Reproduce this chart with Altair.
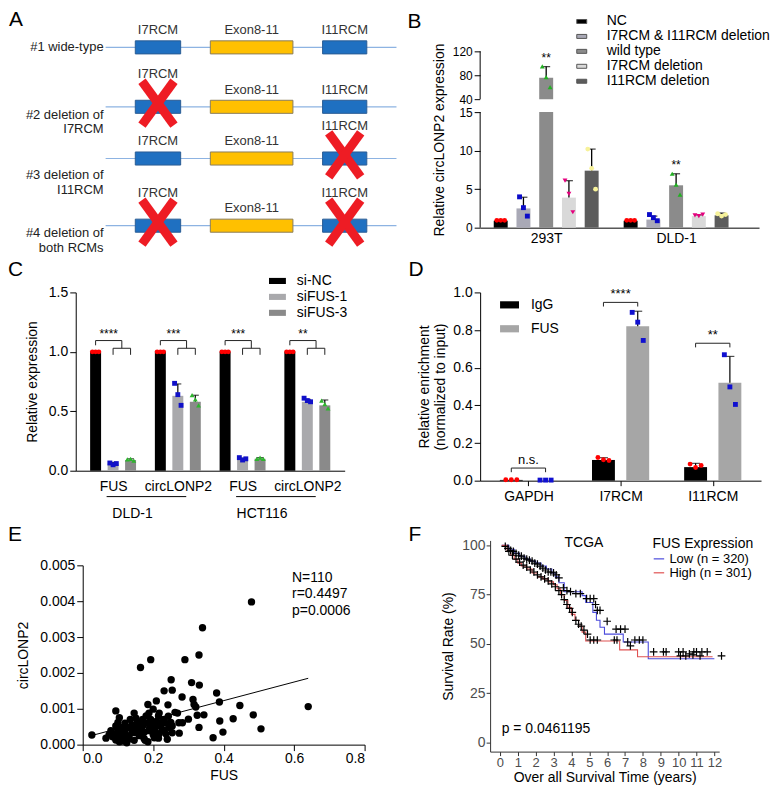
import altair as alt
import pandas as pd

FONT = "Liberation Sans"

# ---------------- Panel A : constructs ----------------
A_ROWS = ["#1 wide-type", "#2 deletion of\nI7RCM", "#3 deletion of\nI11RCM", "#4 deletion of\nboth RCMs"]
A_BLOCKS = ["I7RCM", "Exon8-11", "I11RCM"]
A_BLOCK_START = [10.2, 36.0, 74.6]
A_BLOCK_END = [25.8, 64.4, 89.8]
A_DELETED = [[], ["I7RCM"], ["I11RCM"], ["I7RCM", "I11RCM"]]

# ---------------- Panel B ----------------
B_CELLS = ["293T", "DLD-1"]
B_GROUPS = ["NC", "I7RCM & I11RCM deletion", "wild type", "I7RCM deletion", "I11RCM deletion"]
B_MEAN_293T = [0.9, 2.5, 76.0, 3.9, 7.4]
B_SD_293T = [0.05, 1.45, 18.5, 2.2, 2.8]
B_REPS_293T = [[0.95, 0.95, 0.95], [4.0, 2.6, 1.5], [95.0, 77.0, 60.0], [6.1, 4.4, 2.0], [10.2, 7.7, 5.0]]
B_SIG_293T = ["", "", "**", "", ""]
B_MEAN_DLD1 = [0.9, 1.05, 5.5, 1.5, 1.6]
B_SD_DLD1 = [0.05, 0.45, 1.5, 0.15, 0.3]
B_REPS_DLD1 = [[0.95, 0.95, 0.95], [1.7, 1.3, 0.9], [7.0, 5.6, 4.3], [1.6, 1.5, 1.7], [1.8, 1.5, 1.7]]
B_SIG_DLD1 = ["", "", "**", "", ""]

# ---------------- Panel C ----------------
C_TARGETS = ["FUS", "circLONP2", "FUS", "circLONP2"]
C_CELLS = ["DLD-1", "DLD-1", "HCT116", "HCT116"]
C_GROUPS = ["si-NC", "siFUS-1", "siFUS-3"]
C_MEAN = [[1.0, 0.06, 0.09], [1.0, 0.63, 0.58], [1.0, 0.09, 0.10], [1.0, 0.58, 0.55]]
C_SD = [[0.0, 0.01, 0.01], [0.0, 0.10, 0.055], [0.0, 0.015, 0.01], [0.0, 0.02, 0.045]]
C_REPS = [
    [[1.0, 1.0, 1.0], [0.065, 0.05, 0.06], [0.095, 0.10, 0.085]],
    [[1.0, 1.0, 1.0], [0.735, 0.64, 0.55], [0.635, 0.60, 0.55]],
    [[1.0, 1.0, 1.0], [0.11, 0.09, 0.10], [0.10, 0.11, 0.10]],
    [[1.0, 1.0, 1.0], [0.61, 0.59, 0.58], [0.59, 0.56, 0.525]],
]
C_SIG = ["****", "***", "***", "**"]

# ---------------- Panel D ----------------
D_TARGETS = ["GAPDH", "I7RCM", "I11RCM"]
D_GROUPS = ["IgG", "FUS"]
D_MEAN = [[0.004, 0.003], [0.11, 0.82], [0.072, 0.52]]
D_SD = [[0.0, 0.0], [0.012, 0.08], [0.02, 0.14]]
D_REPS = [
    [[0.005, 0.005, 0.005], [0.003, 0.003, 0.003]],
    [[0.123, 0.111, 0.107], [0.894, 0.842, 0.745]],
    [[0.088, 0.070, 0.081], [0.669, 0.498, 0.405]],
]
D_SIG = ["n.s.", "****", "**"]
D_BRACKET = [0.067, 0.947, 0.73]

# ---------------- Panel E ----------------
E_FUS = [0.479, 0.340, 0.330, 0.290, 0.193, 0.164, 0.251, 0.309, 0.331, 0.231, 0.254, 0.380, 0.282, 0.313,
         0.209, 0.242, 0.185, 0.388, 0.446, 0.640, 0.316, 0.321, 0.094, 0.104, 0.146, 0.269, 0.344, 0.325,
         0.484, 0.427, 0.300, 0.389, 0.330, 0.506, 0.398, 0.274, 0.370, 0.026, 0.066, 0.075,
         0.151, 0.200, 0.217, 0.231, 0.243, 0.273, 0.245, 0.254, 0.283, 0.188, 0.170, 0.193, 0.203, 0.221,
         0.226, 0.207, 0.188, 0.170, 0.151, 0.132, 0.113, 0.094, 0.080, 0.090, 0.104, 0.118, 0.132, 0.146,
         0.160, 0.174, 0.203, 0.217, 0.236, 0.254, 0.104, 0.094, 0.146, 0.177, 0.120, 0.110, 0.125, 0.140,
         0.160, 0.180, 0.195, 0.210, 0.215, 0.225, 0.235, 0.190, 0.200, 0.215, 0.115, 0.130, 0.100, 0.085,
         0.140, 0.165, 0.155, 0.180, 0.205, 0.230, 0.250, 0.262, 0.120, 0.100, 0.135, 0.175, 0.185, 0.240]
E_CIRC_X1000 = [3.98, 3.26, 2.50, 2.37, 2.37, 2.15, 1.81, 1.73, 1.66, 1.50, 1.52, 1.44, 1.33, 1.26,
                1.22, 1.11, 1.12, 1.19, 1.09, 1.06, 1.12, 1.05, 0.94, 0.75, 0.88, 0.88, 0.83, 0.82,
                0.83, 0.72, 0.71, 0.66, 0.48, 0.44, 0.35, 0.32, 0.19, 0.27, 0.18, 0.28,
                0.74, 0.99, 0.88, 0.70, 0.79, 0.61, 0.48, 0.52, 0.61, 0.88, 0.70, 0.70, 0.52, 0.52,
                0.39, 0.34, 0.39, 0.52, 0.48, 0.48, 0.48, 0.52, 0.39, 0.30, 0.21, 0.17, 0.25, 0.34,
                0.25, 0.17, 0.19, 0.30, 0.30, 0.33, 0.08, 0.13, 0.12, 0.12, 0.35, 0.30, 0.05, 0.40,
                0.40, 0.60, 0.60, 0.65, 0.80, 0.62, 0.60, 0.47, 0.28, 0.18, 0.10, 0.15, 0.40, 0.22,
                0.55, 0.58, 0.62, 0.80, 0.42, 0.40, 0.62, 0.90, 0.60, 0.62, 0.70, 0.35, 0.08, 0.15]
E_FIT_X = [0.024, 0.64]
E_FIT_Y = [0.00025, 0.00185]
E_STATS = ["N=110", "r=0.4497", "p=0.0006"]

# ---------------- Panel F ----------------
F_GROUPS = ["Low (n = 320)", "High (n = 301)"]
F_LOW_T = [0.1, 0.5, 0.8, 1.1, 1.4, 1.7, 2.0, 2.3, 2.6, 2.9, 3.1, 3.3, 3.6, 4.6, 4.8, 5.2, 5.4, 5.6, 5.85, 6.9, 8.3, 12.0]
F_LOW_S = [100, 98, 96, 94.5, 93, 92, 91, 89.5, 88, 86, 84, 81, 76.5, 74.5, 71, 66, 62, 58.5, 55, 51, 42.5, 42.5]
F_HIGH_T = [0.1, 0.4, 0.6, 0.8, 1.0, 1.2, 1.5, 1.8, 2.1, 2.4, 2.7, 3.0, 3.2, 3.4, 3.6, 3.8, 4.0, 4.2, 4.4, 4.6, 4.8, 6.7, 7.7, 11.9]
F_HIGH_S = [100, 97, 95, 93, 91, 89.5, 88, 86, 84, 83, 81.5, 80, 78, 75, 72, 68.5, 65, 62, 59, 56, 51.5, 47, 43.5, 43.5]
F_CENSOR_T = [0.3, 0.45, 0.6, 0.75, 0.9, 1.05, 1.2, 1.35, 1.5, 1.65, 1.8, 1.95, 2.1, 2.25, 2.4, 2.55, 2.7, 2.85, 3.0,
              3.15, 3.3, 3.55, 3.75, 3.95, 4.25, 4.5, 4.85, 5.05, 5.25, 5.35, 5.45, 5.6, 6.0, 6.5, 6.75, 7.0,
              7.55, 7.8, 8.0, 8.6, 9.15, 9.3, 10.0, 10.25, 10.6, 10.85, 11.0, 11.3, 11.6, 12.4,
              0.5, 0.7, 0.9, 1.1, 1.3, 1.5, 1.7, 1.9, 2.1, 2.3, 2.5, 2.7, 2.9, 3.1, 3.3, 3.45, 3.6, 3.75,
              3.9, 4.05, 4.25, 4.4, 4.55, 4.7, 4.9, 5.05, 5.25, 5.45, 6.4, 6.55, 7.15, 7.3, 10.1, 10.4, 10.8, 11.2]
F_CENSOR_S = [99.5, 98.5, 97.5, 97, 96, 95, 94.5, 93.5, 93, 92.5, 92, 91, 90.5, 89.5, 88.5, 87.5, 86.5, 86.5, 86,
              85, 83.5, 78.5, 77, 76.5, 75.5, 75.5, 73, 73, 73, 70, 67, 67, 61.5, 57.5, 57.5, 57.5,
              52, 52, 52, 46, 46, 46, 46, 46, 45, 46, 46, 46, 46, 44,
              97, 95, 93, 91.5, 90, 89, 87.5, 86.5, 85, 84, 83, 82, 80.5, 79, 77, 75, 72.5, 70,
              68, 66, 62, 60, 59, 57, 55, 52, 52, 52, 52, 52, 51, 49, 44, 44, 44.5, 44]
F_PVALUE = "p = 0.0461195"

# ======================================================================
TXT = dict(font=FONT, color="black")
INDEP = dict(fill="independent", stroke="independent", color="independent", shape="independent")


def letter(ch, dx, dy):
    return alt.Chart(pd.DataFrame({"t": [ch]})).mark_text(
        align="left", baseline="top", fontSize=21, **TXT
    ).encode(x=alt.value(dx), y=alt.value(dy), text="t:N")


def rect_path(h):
    return "M-1,-%sH1V%sH-1Z" % (h, h)


def rep_points(df, x, y):
    return alt.Chart(df).mark_point(filled=True, size=24, opacity=1, strokeWidth=0.5).encode(
        x=x, y=y, color=alt.Color("pcol:N", scale=None), shape=alt.Shape("pshape:N", scale=None))


# ---------------- Panel A ----------------
A_W, A_H = 330, 177
A_TRACK0, A_PX = 30, 2.92
A_ROW0, A_ROWPX = -4, 59.67
A_ROW_Y = [0.0, 1.0, 1.87, 3.0]
A_LABEL_DY = [0.0, 0.13, 0.28, 0.13]

a_x = alt.X("x:Q", scale=alt.Scale(domain=[-A_TRACK0 / A_PX, (A_W - A_TRACK0) / A_PX], nice=False, zero=False),
            axis=None)
a_y = alt.Y("y:Q", scale=alt.Scale(domain=[-A_ROW0 / A_ROWPX, (A_H - A_ROW0) / A_ROWPX],
                                   reverse=True, nice=False, zero=False), axis=None)

lines_rows, block_rows, lab_rows, cross_rows, rowlab_rows = [], [], [], [], []
for r, name in enumerate(A_ROWS):
    ry = A_ROW_Y[r]
    lines_rows.append({"x": 0, "x2": 100, "y": ry})
    rowlab_rows.append({"x": -0.7, "y": ry + A_LABEL_DY[r], "t": name})
    for b, s, e in zip(A_BLOCKS, A_BLOCK_START, A_BLOCK_END):
        dele = b in A_DELETED[r]
        block_rows.append({"x": s, "x2": e, "y": ry - 0.11, "y2": ry + 0.11, "block": b})
        lab_rows.append({"x": (s + e) / 2, "y": ry - (0.55 if dele else 0.29), "t": b})
        if dele:
            cx, cy = (s + e) / 2, ry - 0.06
            cross_rows.append({"x": cx - 5.5, "x2": cx + 5.5, "y": cy - 0.37, "y2": cy + 0.37})
            cross_rows.append({"x": cx - 5.5, "x2": cx + 5.5, "y": cy + 0.37, "y2": cy - 0.37})

a_lines = alt.Chart(pd.DataFrame(lines_rows)).mark_rule(color="#8db3e2", strokeWidth=1.2).encode(
    x=a_x, x2="x2:Q", y=a_y)
a_blocks = alt.Chart(pd.DataFrame(block_rows)).mark_rect(strokeWidth=1).encode(
    x=a_x, x2="x2:Q", y=a_y, y2="y2:Q",
    fill=alt.Fill("block:N", scale=alt.Scale(domain=A_BLOCKS, range=["#1f70c1", "#ffc000", "#1f70c1"]), legend=None),
    stroke=alt.Stroke("block:N", scale=alt.Scale(domain=A_BLOCKS, range=["#2a5d94", "#8a7d5a", "#2a5d94"]), legend=None))
a_labels = alt.Chart(pd.DataFrame(lab_rows)).mark_text(fontSize=13, font=FONT, color="#333333").encode(
    x=a_x, y=a_y, text="t:N")
a_cross = alt.Chart(pd.DataFrame(cross_rows)).mark_rule(color="#ee1c24", strokeWidth=9, strokeCap="butt").encode(
    x=a_x, x2="x2:Q", y=a_y, y2="y2:Q")
a_rowlab = alt.Chart(pd.DataFrame(rowlab_rows)).mark_text(
    fontSize=13, font=FONT, color="#222222", align="right", baseline="middle", lineBreak="\n", lineHeight=15
).encode(x=a_x, y=a_y, text="t:N")
panelA = alt.layer(a_lines, a_blocks, a_labels, a_cross, a_rowlab, letter("A", -67, -42)).properties(
    width=A_W, height=A_H)

# ---------------- Panel B ----------------
B_W, B_H = 280, 177
B_BAR = ["#000000", "#a9a9b6", "#8b8b8b", "#d9d9d9", "#5c5c5c"]
B_PT = ["#ff0000", "#0b0bc8", "#22b022", "#e5007e", "#f7f29a"]
B_SHAPE = ["circle", "square", "triangle-up", "triangle-down", "circle"]
b_expr = "[" + ",".join("'%s'" % c for c in B_CELLS) + "][datum.value]"
b_xs = alt.Scale(domain=[-0.47, 1.6], nice=False, zero=False)
b_ys = alt.Scale(domain=[0, 15, 40, 120], range=[B_H, B_H - 116, B_H - 129, 0], nice=False, zero=False)
b_x = alt.X("pos:Q", scale=b_xs,
            axis=alt.Axis(values=list(range(len(B_CELLS))), labelExpr=b_expr, ticks=False, title=None,
                          labelPadding=4))
b_y = alt.Y("val:Q", scale=b_ys,
            axis=alt.Axis(values=[0, 5, 10, 15, 40, 80, 120], domain=False, tickSize=6, labelOverlap=False,
                          labelFontSize=12, title="Relative circLONP2 expression", titlePadding=6))
b_bars, b_err, b_cap, b_pts, b_sig = [], [], [], [], []
for ci, (means, sds, reps, sigs) in enumerate([(B_MEAN_293T, B_SD_293T, B_REPS_293T, B_SIG_293T),
                                                (B_MEAN_DLD1, B_SD_DLD1, B_REPS_DLD1, B_SIG_DLD1)]):
    for gi, g in enumerate(B_GROUPS):
        pos = ci + (gi - 2) * 0.175
        b_bars.append({"pos": pos, "val": means[gi], "group": g})
        b_err.append({"pos": pos, "val": means[gi], "val2": means[gi] + sds[gi]})
        b_cap.append({"pos": pos, "val": means[gi] + sds[gi]})
        b_sig.append({"pos": pos, "val": means[gi] + sds[gi], "t": sigs[gi]})
        for k, v in enumerate(reps[gi]):
            b_pts.append({"pos": pos + (k - 1) * 0.03, "val": v, "pcol": B_PT[gi], "pshape": B_SHAPE[gi]})

bB_bars = alt.Chart(pd.DataFrame(b_bars)).mark_bar(size=14, orient="vertical").encode(
    x=b_x, y=b_y,
    fill=alt.Fill("group:N", scale=alt.Scale(domain=B_GROUPS, range=B_BAR),
                  legend=alt.Legend(title=None, orient="none", legendX=95, legendY=-37,
                                    symbolType=rect_path(0.4), symbolSize=100, symbolStrokeWidth=1,
                                    symbolStrokeColor="#555555",
                                    labelOffset=18, rowPadding=1, labelFontSize=14, labelLimit=300)))
bB_gap = alt.Chart(pd.DataFrame({"val": [15], "val2": [40]})).mark_rect(fill="white").encode(
    x=alt.value(0), x2=alt.value(B_W), y=b_y, y2="val2:Q")
bB_err = alt.Chart(pd.DataFrame(b_err)).mark_rule(color="black", strokeWidth=1.3).encode(x=b_x, y=b_y, y2="val2:Q")
bB_cap = alt.Chart(pd.DataFrame(b_cap)).mark_tick(orient="horizontal", size=8, thickness=1.3, color="black").encode(
    x=b_x, y=b_y)
bB_pts = rep_points(pd.DataFrame(b_pts), b_x, b_y)
bB_sig = alt.Chart(pd.DataFrame(b_sig)).mark_text(baseline="bottom", dy=-2, fontSize=12, **TXT).encode(
    x=b_x, y=b_y, text="t:N")
bB_axis = alt.Chart(pd.DataFrame({"val": [0, 40], "val2": [15, 120]})).mark_rule(color="black").encode(
    x=alt.value(0), y=b_y, y2="val2:Q")
panelB = alt.layer(bB_bars, bB_gap, bB_err, bB_cap, bB_pts, bB_sig, bB_axis, letter("B", -73, -40)).properties(
    width=B_W, height=B_H)

# ---------------- Panel C ----------------
C_W, C_H = 270, 179
C_BAR = ["#000000", "#a9a9ac", "#8a8a8a"]
C_PT = ["#ff0000", "#1010c8", "#2db52d"]
C_SHAPE = ["circle", "square", "triangle-up"]
C_STEP = 0.27
c_expr = "[" + ",".join("'%s'" % c for c in C_TARGETS) + "][datum.value]"
c_xs = alt.Scale(domain=[-0.5, 3.5], nice=False, zero=False)
c_ys = alt.Scale(domain=[0, 1.5], nice=False)
c_x = alt.X("pos:Q", scale=c_xs,
            axis=alt.Axis(values=list(range(len(C_TARGETS))), labelExpr=c_expr, ticks=False, title=None,
                          labelPadding=9))
c_y = alt.Y("val:Q", scale=c_ys,
            axis=alt.Axis(values=[0, 0.5, 1.0, 1.5], format=".1f", tickSize=6, title="Relative expression",
                          titlePadding=9))
c_bars, c_err, c_cap, c_pts, c_br, c_sig = [], [], [], [], [], []
for ti in range(len(C_TARGETS)):
    ps = [ti + (gi - 1) * C_STEP for gi in range(len(C_GROUPS))]
    for gi, g in enumerate(C_GROUPS):
        c_bars.append({"pos": ps[gi], "val": C_MEAN[ti][gi], "group": g})
        if C_SD[ti][gi] > 0:
            c_err.append({"pos": ps[gi], "val": C_MEAN[ti][gi], "val2": C_MEAN[ti][gi] + C_SD[ti][gi]})
            c_cap.append({"pos": ps[gi], "val": C_MEAN[ti][gi] + C_SD[ti][gi]})
        for k, v in enumerate(C_REPS[ti][gi]):
            c_pts.append({"pos": ps[gi] + (k - 1) * 0.05, "val": v, "pcol": C_PT[gi], "pshape": C_SHAPE[gi]})
    mid = (ps[1] + ps[2]) / 2
    c_br += [
        {"pos": ps[0], "pos2": ps[0], "val": 1.055, "val2": 1.095},
        {"pos": ps[0], "pos2": mid, "val": 1.095, "val2": 1.095},
        {"pos": mid, "pos2": mid, "val": 1.095, "val2": 1.03},
        {"pos": ps[1], "pos2": ps[2], "val": 1.03, "val2": 1.03},
        {"pos": ps[1], "pos2": ps[1], "val": 1.03, "val2": 0.975},
        {"pos": ps[2], "pos2": ps[2], "val": 1.03, "val2": 0.975},
    ]
    c_sig.append({"pos": (ps[0] + mid) / 2, "val": 1.095, "t": C_SIG[ti]})
c_grp = []
for cell in dict.fromkeys(C_CELLS):
    idx = [i for i, c in enumerate(C_CELLS) if c == cell]
    c_grp.append({"pos": idx[0] - 0.1, "pos2": idx[-1] + 0.13, "lab": idx[0] + 0.3, "t": cell})
c_grp = pd.DataFrame(c_grp)

cC_bars = alt.Chart(pd.DataFrame(c_bars)).mark_bar(size=11, orient="vertical").encode(
    x=c_x, y=c_y,
    fill=alt.Fill("group:N", scale=alt.Scale(domain=C_GROUPS, range=C_BAR),
                  legend=alt.Legend(title=None, orient="none", legendX=194, legendY=-20,
                                    symbolType=rect_path(0.36), symbolSize=289, symbolStrokeWidth=0,
                                    labelOffset=11, rowPadding=-1.5, labelFontSize=14)))
cC_err = alt.Chart(pd.DataFrame(c_err)).mark_rule(color="black", strokeWidth=1.2).encode(x=c_x, y=c_y, y2="val2:Q")
cC_cap = alt.Chart(pd.DataFrame(c_cap)).mark_tick(orient="horizontal", size=7, thickness=1.2, color="black").encode(
    x=c_x, y=c_y)
cC_pts = rep_points(pd.DataFrame(c_pts), c_x, c_y)
cC_br = alt.Chart(pd.DataFrame(c_br)).mark_rule(color="#222222", strokeWidth=1).encode(
    x=c_x, x2="pos2:Q", y=c_y, y2="val2:Q")
cC_sig = alt.Chart(pd.DataFrame(c_sig)).mark_text(baseline="bottom", dy=0, fontSize=12, **TXT).encode(
    x=c_x, y=c_y, text="t:N")
cC_gl = alt.Chart(c_grp).mark_rule(color="black", strokeWidth=1).encode(
    x=c_x, x2="pos2:Q", y=alt.value(C_H + 26))
cC_gt = alt.Chart(c_grp.rename(columns={"pos": "p0", "lab": "pos"})).mark_text(
    fontSize=14, baseline="middle", **TXT).encode(x=c_x, y=alt.value(C_H + 43), text="t:N")
panelC = alt.layer(cC_bars, cC_err, cC_cap, cC_pts, cC_br, cC_sig, cC_gl, cC_gt, letter("C", -68, -33)).properties(
    width=C_W, height=C_H)

# ---------------- Panel D ----------------
D_W, D_H = 282, 189
D_BAR = ["#000000", "#a6a6a6"]
D_PT = ["#ff0000", "#1010d0"]
D_SHAPE = ["circle", "square"]
D_STEP = 0.372
d_expr = "[" + ",".join("'%s'" % c for c in D_TARGETS) + "][datum.value]"
d_xs = alt.Scale(domain=[-0.47, 2.47], nice=False, zero=False)
d_ys = alt.Scale(domain=[0, 1.0], nice=False)
d_x = alt.X("pos:Q", scale=d_xs,
            axis=alt.Axis(values=list(range(len(D_TARGETS))), labelExpr=d_expr, tickSize=5, title=None,
                          labelPadding=4))
d_y = alt.Y("val:Q", scale=d_ys,
            axis=alt.Axis(values=[0, 0.2, 0.4, 0.6, 0.8, 1.0], format=".1f", tickSize=6,
                          title=["Relative enrichment", "(normalized to input)"], titlePadding=5))
d_bars, d_err, d_cap, d_pts, d_br, d_sig = [], [], [], [], [], []
for ti in range(len(D_TARGETS)):
    ps = [ti + (gi - 0.5) * D_STEP for gi in range(len(D_GROUPS))]
    for gi, g in enumerate(D_GROUPS):
        d_bars.append({"pos": ps[gi], "val": D_MEAN[ti][gi], "group": g})
        if D_SD[ti][gi] > 0:
            d_err.append({"pos": ps[gi], "val": D_MEAN[ti][gi], "val2": D_MEAN[ti][gi] + D_SD[ti][gi]})
            d_cap.append({"pos": ps[gi], "val": D_MEAN[ti][gi] + D_SD[ti][gi]})
        for k, v in enumerate(D_REPS[ti][gi]):
            d_pts.append({"pos": ps[gi] + (k - 1) * 0.06, "val": v, "pcol": D_PT[gi], "pshape": D_SHAPE[gi]})
    yb = D_BRACKET[ti]
    d_br += [
        {"pos": ps[0], "pos2": ps[1], "val": yb, "val2": yb},
        {"pos": ps[0], "pos2": ps[0], "val": yb, "val2": yb - 0.022},
        {"pos": ps[1], "pos2": ps[1], "val": yb, "val2": yb - 0.022},
    ]
    d_sig.append({"pos": (ps[0] + ps[1]) / 2, "val": yb, "t": D_SIG[ti]})

dD_bars = alt.Chart(pd.DataFrame(d_bars)).mark_bar(size=23, orient="vertical").encode(
    x=d_x, y=d_y,
    fill=alt.Fill("group:N", scale=alt.Scale(domain=D_GROUPS, range=D_BAR),
                  legend=alt.Legend(title=None, orient="none", legendX=20, legendY=3,
                                    symbolType=rect_path(0.38), symbolSize=361, symbolStrokeWidth=0,
                                    labelOffset=12, rowPadding=7, labelFontSize=14)))
dD_err = alt.Chart(pd.DataFrame(d_err)).mark_rule(color="black", strokeWidth=1.2).encode(x=d_x, y=d_y, y2="val2:Q")
dD_cap = alt.Chart(pd.DataFrame(d_cap)).mark_tick(orient="horizontal", size=9, thickness=1.2, color="black").encode(
    x=d_x, y=d_y)
dD_pts = rep_points(pd.DataFrame(d_pts), d_x, d_y)
dD_br = alt.Chart(pd.DataFrame(d_br)).mark_rule(color="#222222", strokeWidth=1).encode(
    x=d_x, x2="pos2:Q", y=d_y, y2="val2:Q")
dD_sig = alt.Chart(pd.DataFrame(d_sig)).mark_text(baseline="bottom", dy=-1, fontSize=13, **TXT).encode(
    x=d_x, y=d_y, text="t:N")
panelD = alt.layer(dD_bars, dD_err, dD_cap, dD_pts, dD_br, dD_sig, letter("D", -72, -33)).properties(
    width=D_W, height=D_H)

# ---------------- Panel E ----------------
E_W, E_H = 290, 205
E_X0, E_Y0 = 7, 25
e_xs = alt.Scale(domain=[0, 0.8], range=[E_X0, E_W], nice=False)
e_ys = alt.Scale(domain=[0, 0.005], range=[E_H, E_Y0], nice=False)
e_x = alt.X("pos:Q", scale=e_xs,
            axis=alt.Axis(values=[0, 0.2, 0.4, 0.6, 0.8], format=".1f", tickSize=6, title="FUS",
                          labelPadding=1, titlePadding=3))
e_y = alt.Y("val:Q", scale=e_ys,
            axis=alt.Axis(values=[0, 0.001, 0.002, 0.003, 0.004, 0.005], format=".3f", tickSize=6,
                          title="circLONP2", titlePadding=9, offset=-E_X0))
e_df = pd.DataFrame({"pos": E_FUS, "val": [v / 1000.0 for v in E_CIRC_X1000]})
eE_pts = alt.Chart(e_df).mark_circle(size=55, color="black", opacity=1).encode(x=e_x, y=e_y)
eE_fit = alt.Chart(pd.DataFrame({"pos": E_FIT_X, "val": E_FIT_Y})).mark_line(color="black", strokeWidth=1).encode(
    x=e_x, y=e_y)
eE_txt = alt.Chart(pd.DataFrame({"pos": [0.594] * 3, "val": [0.00465, 0.0042, 0.00372], "t": E_STATS})).mark_text(
    align="left", baseline="middle", fontSize=14, **TXT).encode(x=e_x, y=e_y, text="t:N")
panelE = alt.layer(eE_pts, eE_fit, eE_txt, letter("E", -68, -16)).properties(width=E_W, height=E_H)

# ---------------- Panel F ----------------
F_W, F_H = 230, 212
F_COL = ["#4b4bdc", "#e05252"]
f_axis = dict(domainColor="#333333", tickColor="#333333", labelColor="#4d4d4d", tickSize=4, labelPadding=1)
f_xs = alt.Scale(domain=[-0.55, 12.27], nice=False, zero=False)
f_ys = alt.Scale(domain=[-4.6, 102.5], nice=False, zero=False)
f_x = alt.X("pos:Q", scale=f_xs,
            axis=alt.Axis(values=list(range(13)), title="Over all Survival Time (years)", titlePadding=1,
                          labelFontSize=13, **f_axis))
f_y = alt.Y("val:Q", scale=f_ys,
            axis=alt.Axis(values=[0, 25, 50, 75, 100], title="Survival Rate (%)", titlePadding=6, **f_axis))
f_df = pd.DataFrame({"pos": F_LOW_T + F_HIGH_T, "val": F_LOW_S + F_HIGH_S,
                     "grp": [F_GROUPS[0]] * len(F_LOW_T) + [F_GROUPS[1]] * len(F_HIGH_T)})
fF_lines = alt.Chart(f_df).mark_line(interpolate="step-after", strokeWidth=1.1).encode(
    x=f_x, y=f_y,
    color=alt.Color("grp:N", scale=alt.Scale(domain=F_GROUPS, range=F_COL),
                    legend=alt.Legend(title="FUS Expression", orient="none", legendX=163, legendY=-3,
                                      symbolType="stroke", symbolSize=110, symbolStrokeWidth=1.2,
                                      labelOffset=4, rowPadding=0, titlePadding=1, labelFontSize=13,
                                      titleFontSize=14, titleFontWeight="normal", labelColor="black")))
fF_cens = alt.Chart(pd.DataFrame({"pos": F_CENSOR_T, "val": F_CENSOR_S})).mark_point(
    shape="M-1,0L1,0M0,-1L0,1", size=60, filled=False, color="black", strokeWidth=1.2, opacity=1).encode(
    x=f_x, y=f_y)
fF_title = alt.Chart(pd.DataFrame({"pos": [4.7], "val": [101], "t": ["TCGA"]})).mark_text(
    fontSize=14, baseline="middle", **TXT).encode(x=f_x, y=f_y, text="t:N")
fF_p = alt.Chart(pd.DataFrame({"pos": [0.1], "val": [7.1], "t": [F_PVALUE]})).mark_text(
    fontSize=14, align="left", baseline="middle", **TXT).encode(x=f_x, y=f_y, text="t:N")
panelF = alt.layer(fF_lines, fF_cens, fF_title, fF_p, letter("F", -82, -16)).properties(width=F_W, height=F_H)

# ---------------- assemble ----------------
row1 = alt.hconcat(panelA, panelB, spacing=76, bounds="flush").resolve_scale(**INDEP).resolve_legend(**INDEP)
row2 = alt.hconcat(panelC, panelD, spacing=136, bounds="flush").resolve_scale(**INDEP).resolve_legend(**INDEP)
row3 = alt.hconcat(panelE, panelF, spacing=126, bounds="flush").resolve_scale(**INDEP).resolve_legend(**INDEP)
chart = alt.vconcat(row1, row2, row3, spacing=4).resolve_scale(**INDEP).resolve_legend(
    **INDEP).properties(padding=0).configure(font=FONT).configure_view(stroke=None).configure_axis(
    grid=False, domainColor="black", tickColor="black", labelColor="black", titleColor="black",
    labelFontSize=14, titleFontSize=14, titleFontWeight="normal", labelFont=FONT, titleFont=FONT,
    domainWidth=1, tickWidth=1
).configure_legend(labelFont=FONT, titleFont=FONT, labelColor="black")

chart.save("out.html", embed_options={"renderer": "svg", "actions": False})
